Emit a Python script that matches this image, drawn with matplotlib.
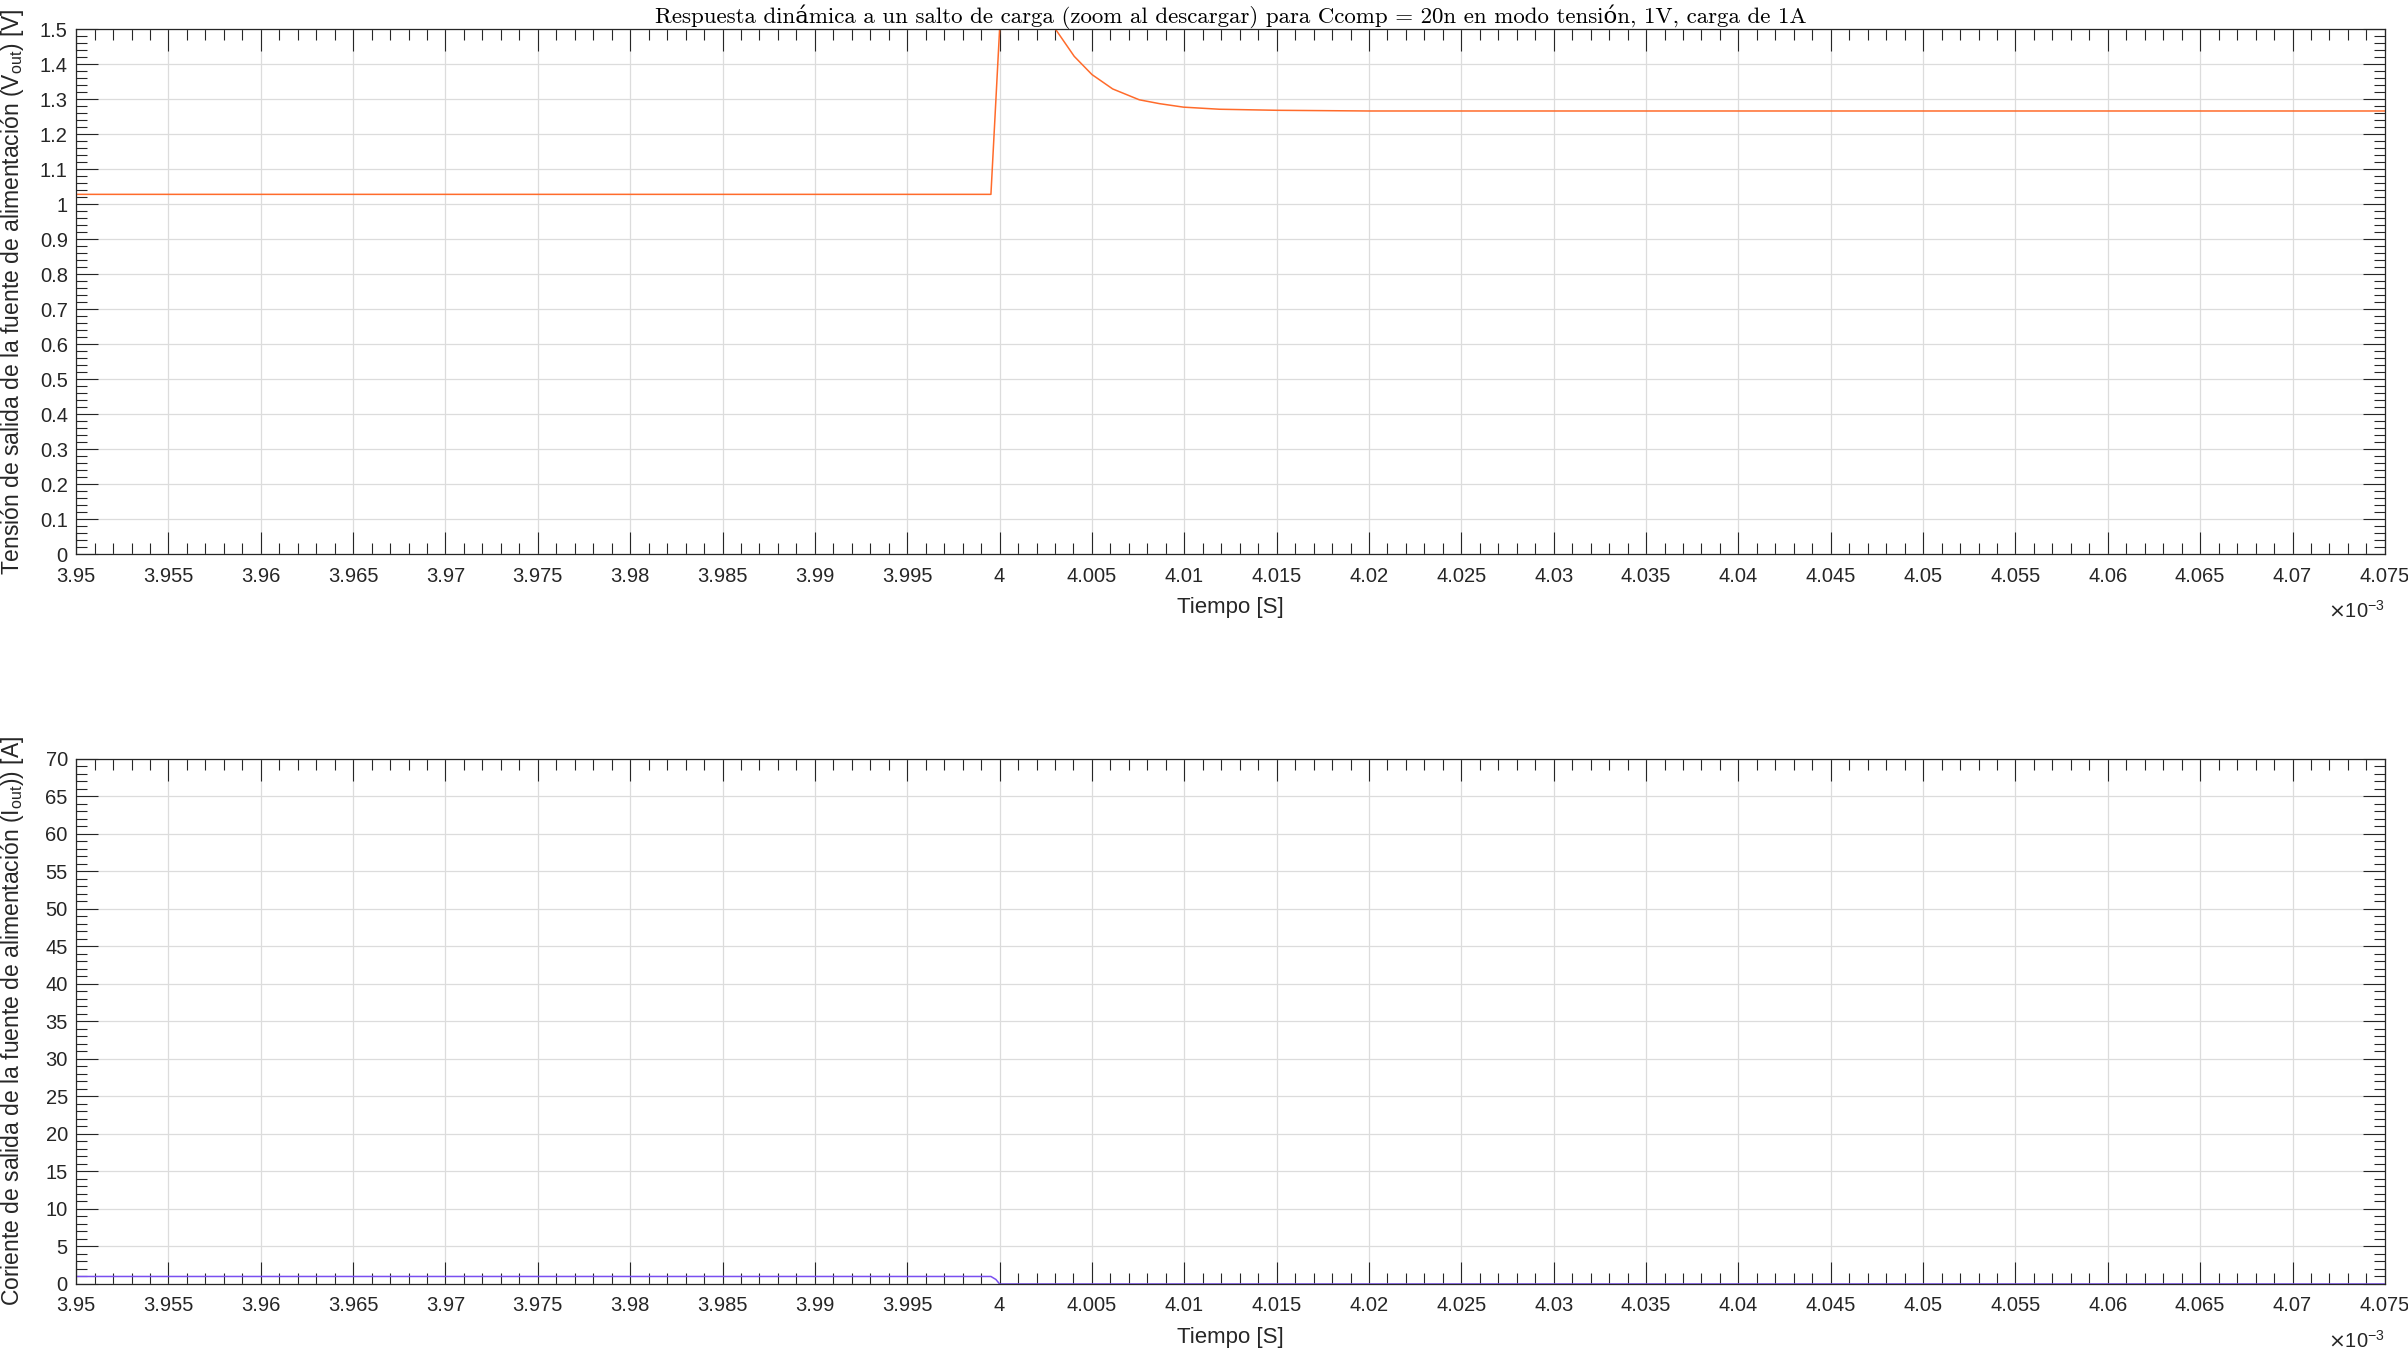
import numpy as np
import matplotlib
matplotlib.use("Agg")
import matplotlib.pyplot as plt
from matplotlib.ticker import MultipleLocator, FuncFormatter

# ---- data (time in ms, converted to seconds for plotting) ----
time_v_ms = [3.95, 3.99953, 4.0001, 4.0012, 4.00302, 4.00404, 4.005, 4.00612,
             4.00756, 4.00865, 4.00995, 4.0119, 4.015, 4.02, 4.075]
vout = [1.028, 1.028, 1.6, 1.75, 1.5, 1.422, 1.370, 1.329,
        1.298, 1.287, 1.277, 1.271, 1.268, 1.266, 1.266]

time_i_ms = [3.95, 3.99953, 3.9998, 4.0, 4.075]
iout = [1.0, 1.0, 0.6, 0.0, 0.0]

title_txt = "Respuesta dinámica a un salto de carga (zoom al descargar) para Ccomp = 20n en modo tensión, 1V, carga de 1A"
ylabel_v = "Tensión de salida de la fuente de alimentación (V$_{\\mathregular{out}}$) [V]"
ylabel_i = "Coriente de salida de la fuente de alimentación (I$_{\\mathregular{out}}$)) [A]"
xlabel_txt = "Tiempo [S]"

t_v = np.array(time_v_ms) * 1e-3
t_i = np.array(time_i_ms) * 1e-3

plt.rcParams['font.family'] = ['Liberation Sans', 'DejaVu Sans']

fig = plt.figure(figsize=(24.08, 13.5), dpi=100)
ax1 = fig.add_axes([0.0316, 0.5893, 0.9588, 0.3892])
ax2 = fig.add_axes([0.0316, 0.0489, 0.9588, 0.3892])

axc = '#262626'
ax1.plot(t_v, vout, color='#FF6B2B', lw=1.1)
ax2.plot(t_i, iout, color='#7A4FF0', lw=1.1)

for ax, ylim, ymaj, ymin, ylab in [(ax1, (0, 1.5), 0.1, 0.02, ylabel_v),
                                   (ax2, (0, 70), 5, 1, ylabel_i)]:
    ax.set_xlim(3.95e-3, 4.075e-3)
    ax.set_ylim(*ylim)
    ax.xaxis.set_major_locator(MultipleLocator(0.005e-3))
    ax.xaxis.set_minor_locator(MultipleLocator(0.001e-3))
    ax.yaxis.set_major_locator(MultipleLocator(ymaj))
    ax.yaxis.set_minor_locator(MultipleLocator(ymin))
    ax.xaxis.set_major_formatter(FuncFormatter(lambda v, p: f"{round(v*1e3, 6):g}"))
    ax.yaxis.set_major_formatter(FuncFormatter(lambda v, p: f"{round(v, 6):g}"))
    ax.tick_params(which='both', direction='in', top=True, right=True, colors=axc,
                   labelcolor=axc, width=0.8)
    ax.tick_params(which='major', length=16, labelsize=14.5)
    ax.tick_params(axis='x', which='major', pad=9)
    ax.tick_params(axis='y', which='major', pad=6)
    ax.tick_params(which='minor', length=8)
    ax.grid(True, which='major', color='#DCDCDC', lw=0.9)
    ax.set_axisbelow(True)
    for s in ax.spines.values():
        s.set_color(axc)
        s.set_linewidth(0.9)
    ax.set_xlabel(xlabel_txt, fontsize=16, color=axc, labelpad=8)
    ax.set_ylabel(ylab, fontsize=16.5, color=axc)
    ax.yaxis.set_label_coords(-0.0215, 0.5)
    ax.text(1.0, -0.108, r"$\times\mathregular{10^{-3}}$", transform=ax.transAxes,
            ha='right', va='center', fontsize=14.5, color=axc)

ax1.set_title(title_txt, fontsize=16.5, family=['cmr10', 'DejaVu Serif'], pad=2, color='black')

fig.savefig("out.png", dpi=100)
